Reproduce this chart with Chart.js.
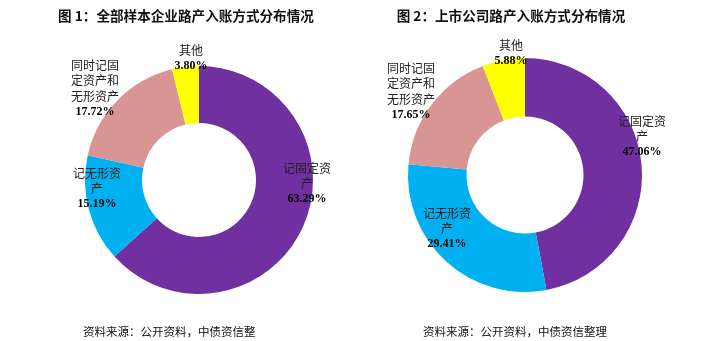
<!DOCTYPE html>
<html>
<head>
<meta charset="utf-8">
<script src="https://cdn.jsdelivr.net/npm/chart.js@4/dist/chart.umd.min.js"></script>
<style>
    body { margin: 0; background: #fff; }
    #wrap { position: relative; width: 708px; height: 341px; overflow: hidden; }
    .box { position: absolute; top: 0; width: 354px; height: 341px; }
    .title { position: absolute; font: bold 13.6px "Noto Sans CJK SC", sans-serif; color: #111; white-space: nowrap; transform: translate(-50%, -50%); }
    .note { position: absolute; font: 11.5px "Noto Sans CJK SC", sans-serif; color: #111; white-space: nowrap; transform: translateY(-50%); }
</style>
</head>
<body>
<div id="wrap">
    <div class="box" style="left:0"><canvas id="chart1"></canvas></div>
    <div class="box" style="left:354px"><canvas id="chart2"></canvas></div>
    <div class="title" style="left:186px; top:15px">图 1：全部样本企业路产入账方式分布情况</div>
    <div class="title" style="left:511px; top:15px">图 2：上市公司路产入账方式分布情况</div>
    <div class="note" style="left:83px; top:331px">资料来源：公开资料，中债资信整</div>
    <div class="note" style="left:423px; top:331px">资料来源：公开资料，中债资信整理</div>
</div>
<script>
// 데이터
const categories = ['记固定资产', '记无形资产', '同时记固定资产和无形资产', '其他'];
const allSampleShare = [63.29, 15.19, 17.72, 3.80]; // 图 1
const listedShare = [47.06, 29.41, 17.65, 5.88];   // 图 2
const labelLines = [['记固定资', '产'], ['记无形资', '产'], ['同时记固', '定资产和', '无形资产'], ['其他']];

const sliceColors = ['#7030A0', '#00B0F0', '#D99594', '#FFFF00'];

// 라벨 첫 줄 위치 (캔버스 기준)
const labelPos1 = [[307, 168], [97, 173], [95, 65], [191, 50]];
const labelPos2 = [[288, 121], [93, 213], [57, 68], [157, 45]];

function sliceLabels(positions) {
    return {
        id: 'sliceLabels',
        afterDatasetsDraw(chart) {
            const ctx = chart.ctx;
            const values = chart.data.datasets[0].data;
            ctx.save();
            ctx.textAlign = 'center';
            ctx.textBaseline = 'middle';
            values.forEach((v, i) => {
                const [x, y] = positions[i];
                const lines = labelLines[i];
                ctx.fillStyle = '#222';
                ctx.font = '12px "Noto Sans CJK SC", sans-serif';
                lines.forEach((t, k) => ctx.fillText(t, x, y + k * 15.5));
                ctx.fillStyle = '#000';
                ctx.font = 'bold 12px "Liberation Serif", serif';
                ctx.fillText(v.toFixed(2) + '%', x, y + lines.length * 15.5);
            });
            ctx.restore();
        }
    };
}

function makeChart(id, values, padding, positions) {
    new Chart(document.getElementById(id), {
        type: 'doughnut',
        data: {
            labels: categories,
            datasets: [{
                data: values,
                backgroundColor: sliceColors,
                borderWidth: 0
            }]
        },
        options: {
            responsive: false,
            animation: false,
            cutout: '50%',
            layout: { padding: padding },
            plugins: {
                legend: { display: false },
                tooltip: { enabled: false }
            }
        },
        plugins: [sliceLabels(positions)]
    });
}

document.getElementById('chart1').width = 354;
document.getElementById('chart1').height = 341;
document.getElementById('chart2').width = 354;
document.getElementById('chart2').height = 341;

makeChart('chart1', allSampleShare, { left: 85, right: 41, top: 66, bottom: 47 }, labelPos1);
makeChart('chart2', listedShare, { left: 54, right: 66, top: 58, bottom: 49 }, labelPos2);
</script>
</body>
</html>
